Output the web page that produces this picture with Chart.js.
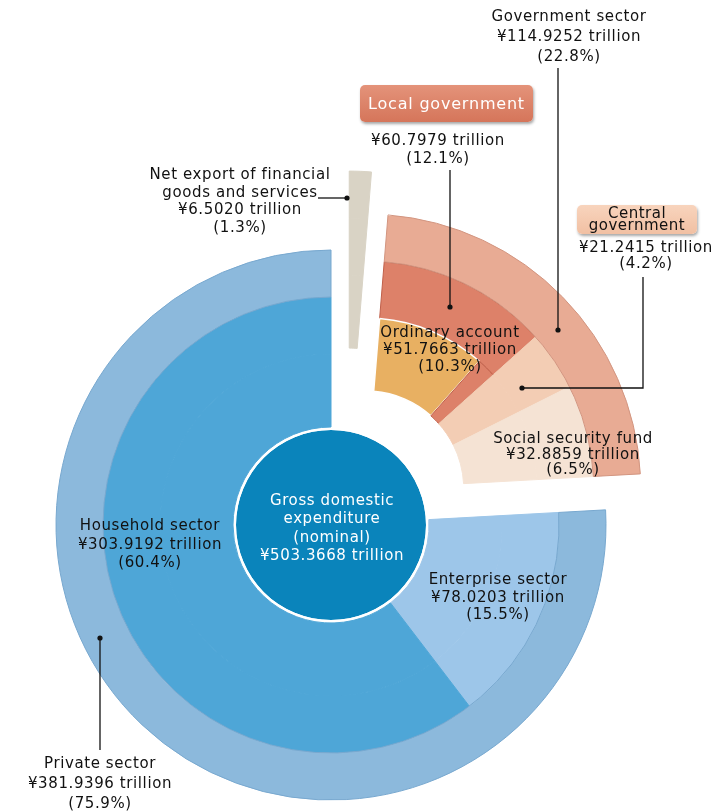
<!DOCTYPE html>
<html lang="en">
<head>
<meta charset="UTF-8">
<title>Gross domestic expenditure (nominal)</title>
<script src="https://cdn.jsdelivr.net/npm/chart.js"></script>
<style>
  body { margin: 0; background: #fff; }
  #wrap { position: relative; width: 718px; height: 812px; overflow: hidden; font-family: "DejaVu Sans", sans-serif; }
  #wrap canvas { position: absolute; left: 0; top: 0; }
  .lbl { position: absolute; transform: translateX(-50%); text-align: center; white-space: nowrap;
         font-size: 15px; line-height: 18px; letter-spacing: 0.6px; color: #111; }
  .box { position: absolute; border-radius: 5px; box-shadow: 1px 2px 3px rgba(0,0,0,0.35);
         text-align: center; white-space: nowrap; }
</style>
</head>
<body>
<div id="wrap">
  <canvas id="chart" width="718" height="812"></canvas>
  <div class="box" style="left:360px;top:85px;width:173px;height:37px;line-height:37px;font-size:16px;letter-spacing:0.8px;color:#fff;background:linear-gradient(#e4937a,#d5755a);">Local government</div>
  <div class="box" style="left:577px;top:205px;width:120px;height:29px;padding-top:2px;box-sizing:border-box;line-height:12px;font-size:15px;letter-spacing:0.5px;color:#111;background:linear-gradient(#f8d4bd,#f1c0a3);">Central<br>government</div>
  <div id="labels"></div>
</div>

<script>
  // values in trillion yen
  const total = 503.3668;
  const sectorNames = ['Net export of financial goods and services', 'Government sector', 'Private sector'];
  const sectorValues = [6.5020, 114.9252, 381.9396];
  const detailNames = ['Net export of financial goods and services', 'Local government', 'Central government',
                       'Social security fund', 'Enterprise sector', 'Household sector'];
  const detailValues = [6.5020, 60.7979, 21.2415, 32.8859, 78.0203, 303.9192];
  const ordinaryName = 'Ordinary account';
  const ordinaryValue = 51.7663;

  const col = {
    net: '#d9d3c5', gov: '#e8ab94', priv: '#8cb9dc',
    local: '#dd8169', localEdge: '#c0604a', ord: '#e8b062', central: '#f3cdb4', social: '#f5e3d4',
    ent: '#9dc6e9', house: '#4ea6d7', center: '#0a84bb'
  };

  // how far the sliced-out groups are pulled away from the centre
  const explode = { net: { d: 81, dir: 13 }, gov: { d: 50, dir: 44 } };

  const fmt = v => '¥' + v.toFixed(4) + ' trillion';
  const pct = v => '(' + (v / total * 100).toFixed(1) + '%)';

  // inner band: ordinary account sits inside local government
  const innerValues = [detailValues[0], ordinaryValue, detailValues[1] - ordinaryValue,
                       detailValues[2], detailValues[3], detailValues[4], detailValues[5]];

  const explodePlugin = {
    id: 'explode',
    afterDatasetsUpdate(chart) {
      chart.data.datasets.forEach((ds, i) => {
        if (!ds.groups) return;
        chart.getDatasetMeta(i).data.forEach((arc, j) => {
          const e = explode[ds.groups[j]];
          if (!e) return;
          const a = (e.dir - 90) * Math.PI / 180;
          arc.x += Math.cos(a) * e.d;
          arc.y += Math.sin(a) * e.d;
        });
      });
    }
  };

  const leaders = [
    [[558, 68], [558, 330]],
    [[450, 170], [450, 307]],
    [[643, 277], [643, 388], [522, 388]],
    [[318, 198], [347, 198]],
    [[100, 750], [100, 638]]
  ];

  const leaderPlugin = {
    id: 'leaders',
    afterDraw(chart) {
      const ctx = chart.ctx;
      ctx.save();
      ctx.strokeStyle = '#111';
      ctx.fillStyle = '#111';
      ctx.lineWidth = 1.3;
      leaders.forEach(pts => {
        ctx.beginPath();
        pts.forEach(([x, y], k) => k ? ctx.lineTo(x, y) : ctx.moveTo(x, y));
        ctx.stroke();
        const [ex, ey] = pts[pts.length - 1];
        ctx.beginPath();
        ctx.arc(ex, ey, 2.6, 0, Math.PI * 2);
        ctx.fill();
      });
      ctx.restore();
    }
  };

  new Chart(document.getElementById('chart'), {
    type: 'doughnut',
    data: {
      labels: detailNames,
      datasets: [
        {
          label: 'Sectors',
          data: sectorValues,
          weight: 47,
          groups: ['net', 'gov', 'priv'],
          backgroundColor: [col.net, col.gov, col.priv],
          borderColor: [col.net, '#d29580', '#78a8cf'],
          borderWidth: 1
        },
        {
          label: 'Breakdown',
          data: detailValues,
          weight: 57,
          order: 1,
          groups: ['net', 'gov', 'gov', 'gov', 'priv', 'priv'],
          backgroundColor: [col.net, col.local, col.central, col.social, col.ent, col.house],
          borderColor: [col.net, col.localEdge, col.central, col.social, col.ent, col.house],
          borderWidth: 1
        },
        {
          label: 'Breakdown (inner)',
          data: innerValues,
          weight: 73,
          groups: ['net', 'gov', 'gov', 'gov', 'gov', 'priv', 'priv'],
          backgroundColor: [col.net, col.ord, col.local, col.central, col.social, col.ent, col.house],
          borderColor: [col.net, '#fff', col.localEdge, col.central, col.social, col.ent, col.house],
          borderWidth: [1, 1.5, 1, 1, 1, 1, 1]
        },
        {
          label: 'rim',
          data: [total],
          weight: 3,
          backgroundColor: '#fff',
          borderWidth: 0
        },
        {
          label: 'Gross domestic expenditure',
          data: [total],
          weight: 95,
          backgroundColor: col.center,
          borderWidth: 0
        }
      ]
    },
    options: {
      responsive: false,
      animation: false,
      events: [],
      radius: 275,
      cutout: 0,
      layout: { padding: { left: 0, right: 56, top: 238, bottom: 0 } },
      plugins: { legend: { display: false }, tooltip: { enabled: false } }
    },
    plugins: [explodePlugin, leaderPlugin]
  });

  // text labels: [x centre, top, line height, lines, colour]
  const labelLayout = [
    [569, 6, 20, ['Government sector', fmt(sectorValues[1]), pct(sectorValues[1])]],
    [438, 131, 18, [fmt(detailValues[1]), pct(detailValues[1])]],
    [646, 239, 16, [fmt(detailValues[2]), pct(detailValues[2])]],
    [240, 166, 17.7, ['Net export of financial', 'goods and services', fmt(sectorValues[0]), pct(sectorValues[0])]],
    [450, 324, 17, [ordinaryName, fmt(ordinaryValue), pct(ordinaryValue)]],
    [573, 431, 15.5, [detailNames[3], fmt(detailValues[3]), pct(detailValues[3])]],
    [150, 516, 18.5, [detailNames[5], fmt(detailValues[5]), pct(detailValues[5])]],
    [498, 571, 17.5, [detailNames[4], fmt(detailValues[4]), pct(detailValues[4])]],
    [100, 753, 20, [sectorNames[2], fmt(sectorValues[2]), pct(sectorValues[2])]],
    [332, 491, 18.3, ['Gross domestic', 'expenditure', '(nominal)', fmt(total)], '#fff']
  ];

  const holder = document.getElementById('labels');
  labelLayout.forEach(([x, y, lh, lines, color]) => {
    const d = document.createElement('div');
    d.className = 'lbl';
    d.style.left = x + 'px';
    d.style.top = y + 'px';
    d.style.lineHeight = lh + 'px';
    if (color) d.style.color = color;
    d.innerHTML = lines.join('<br>');
    holder.appendChild(d);
  });
</script>
</body>
</html>
